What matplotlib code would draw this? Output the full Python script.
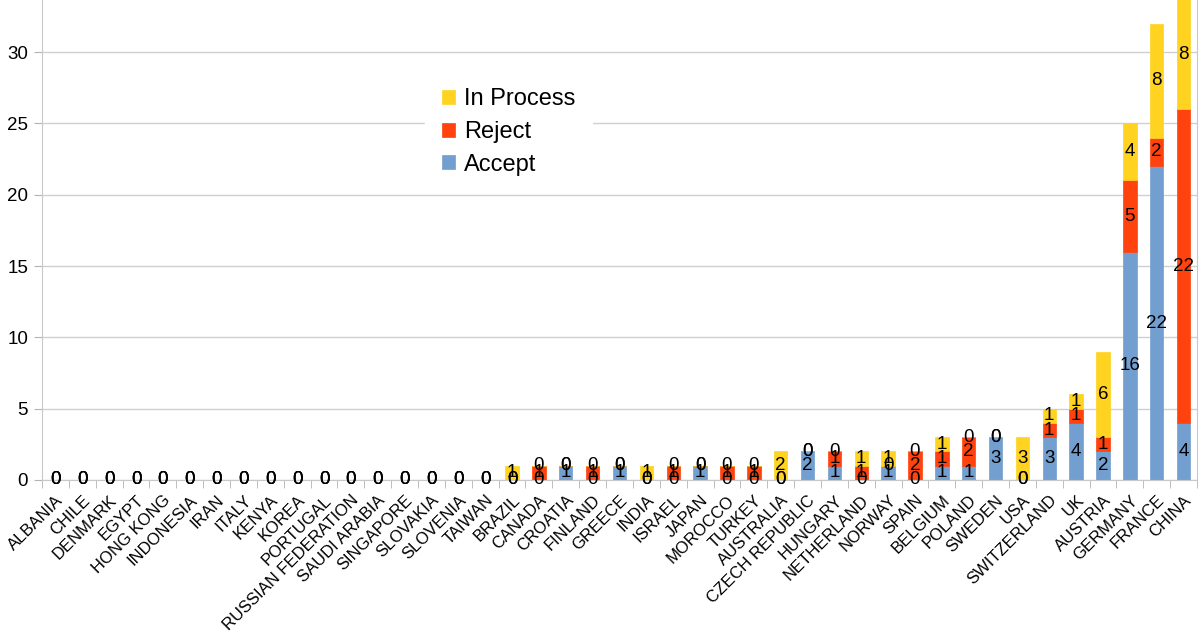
import matplotlib
matplotlib.use("Agg")
import matplotlib.pyplot as plt
import numpy as np

countries = [
    "ALBANIA", "CHILE", "DENMARK", "EGYPT", "HONG KONG", "INDONESIA", "IRAN",
    "ITALY", "KENYA", "KOREA", "PORTUGAL", "RUSSIAN FEDERATION", "SAUDI ARABIA",
    "SINGAPORE", "SLOVAKIA", "SLOVENIA", "TAIWAN", "BRAZIL", "CANADA", "CROATIA",
    "FINLAND", "GREECE", "INDIA", "ISRAEL", "JAPAN", "MOROCCO", "TURKEY",
    "AUSTRALIA", "CZECH REPUBLIC", "HUNGARY", "NETHERLAND", "NORWAY", "SPAIN",
    "BELGIUM", "POLAND", "SWEDEN", "USA", "SWITZERLAND", "UK", "AUSTRIA",
    "GERMANY", "FRANCE", "CHINA",
]
accept = [0] * 17 + [0, 0, 1, 0, 1, 0, 0, 1, 0, 0,
                     0, 2, 1, 0, 1, 0, 1, 1, 3, 0, 3, 4, 2, 16, 22, 4]
reject = [0] * 17 + [0, 1, 0, 1, 0, 0, 1, 0, 1, 1,
                     0, 0, 1, 1, 0, 2, 1, 2, 0, 0, 1, 1, 1, 5, 2, 22]
in_process = [0] * 17 + [1, 0, 0, 0, 0, 1, 0, 0, 0, 0,
                         2, 0, 0, 1, 1, 0, 1, 0, 0, 3, 1, 1, 6, 4, 8, 8]

plt.rcParams["font.family"] = ["Liberation Sans", "DejaVu Sans"]

fig = plt.figure(figsize=(12, 6.4), dpi=100)
ax = fig.add_axes([0.035, 0.25, 0.9625, 0.75])

x = np.arange(len(countries))
acc = np.array(accept)
rej = np.array(reject)
inp = np.array(in_process)

b1 = ax.bar(x, acc, 0.5, color="#729fcf", edgecolor="#729fcf", linewidth=0.5,
            label="Accept", zorder=2)
b2 = ax.bar(x, rej, 0.5, bottom=acc, color="#ff420e", edgecolor="#ff420e",
            linewidth=0.5, label="Reject", zorder=2)
b3 = ax.bar(x, inp, 0.5, bottom=acc + rej, color="#ffd320", edgecolor="#ffd320",
            linewidth=0.5, label="In Process", zorder=2)
for b in (b1, b2, b3):
    ax.bar_label(b, label_type="center", fontsize=13.5, zorder=3)

ax.set_xlim(-0.5, len(countries) - 0.5)
ax.set_ylim(0, 33.65)
ax.set_yticks(range(0, 35, 5))
ax.yaxis.grid(True, color="#d0d0d0", linewidth=1, zorder=0)
ax.tick_params(axis="y", labelsize=13.5, length=6, color="#b3b3b3", pad=4)

ax.set_xticks(x)
ax.set_xticklabels(countries, rotation=45, ha="right", va="top",
                   rotation_mode="anchor", fontsize=12)
ax.tick_params(axis="x", length=0, pad=9)
ax.set_xticks(np.arange(-0.5, len(countries), 1), minor=True)
ax.tick_params(axis="x", which="minor", length=6, color="#b3b3b3")

ax.spines["top"].set_visible(False)
for side in ("left", "bottom", "right"):
    ax.spines[side].set_color("#c8c8c8")

handles, labels = ax.get_legend_handles_labels()
leg = ax.legend(handles[::-1], labels[::-1], loc="center", bbox_to_anchor=(0.404, 0.725),
                fontsize=17, frameon=True, handlelength=0.55, handleheight=0.55,
                handletextpad=0.4, labelspacing=0.45, borderpad=0.4)
leg.get_frame().set_edgecolor("white")
leg.get_frame().set_facecolor("white")
leg.get_frame().set_alpha(1)
leg.get_frame().set_boxstyle("square")

plt.savefig("out.png", dpi=100)
